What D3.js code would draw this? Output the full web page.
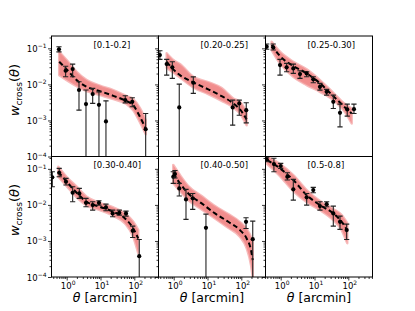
<!DOCTYPE html>
<html><head><meta charset="utf-8">
<script src="https://cdn.jsdelivr.net/npm/d3@7"></script>
<style>body{margin:0;background:#fff}svg{display:block}</style>
</head><body><svg id="c" width="415" height="311"></svg>
<script>
// ---------------- data ----------------
const panelLabels = ["[0.1-0.2]","[0.20-0.25]","[0.25-0.30]","[0.30-0.40]","[0.40-0.50]","[0.5-0.8]"];
const xTickExps = [0, 1, 2];
const yTickExps = [-1, -2, -3, -4];
const xLabel = "[arcmin]";

const obsTheta = [
  [0.59, 0.93, 1.5, 2.31, 3.72, 5.87, 9.0, 14.5, 54, 87, 217],
  [0.39, 0.62, 0.91, 1.46, 3.8, 55.6, 87, 140],
  [0.385, 0.6, 0.953, 1.5, 2.36, 3.72, 5.87, 9.2, 14.5, 22.9, 36, 56.8, 93, 147],
  [0.375, 0.6, 0.953, 1.5, 2.36, 3.72, 5.87, 9.0, 14.5, 22.9, 36, 56.8, 89.6, 140],
  [0.97, 1.09, 1.46, 2.31, 3.65, 9.0, 138, 218],
  [0.385, 0.63, 1.0, 1.57, 2.36, 5.87, 9.2, 14.5, 22.9, 36, 56.8, 89.6]
];
const obsW = [
  [0.094, 0.0239, 0.0266, 0.0070, 0.00284, 0.00538, 0.00271, 0.00094, 0.00367, 0.00329, 0.00057],
  [0.065, 0.0366, 0.0297, 0.0023, 0.0111, 0.0023, 0.00297, 0.00193],
  [0.111, 0.107, 0.0344, 0.0297, 0.0278, 0.0193, 0.0202, 0.0138, 0.00858, 0.00623, 0.00329, 0.00163, 0.00202, 0.00206],
  [0.058, 0.078, 0.0439, 0.0217, 0.0208, 0.0114, 0.00987, 0.0114, 0.00853, 0.0058, 0.00604, 0.0058, 0.00191, 0.000378],
  [0.0603, 0.0717, 0.0287, 0.0142, 0.0152, 0.00231, 0.0034, 0.00112],
  [0.184, 0.136, 0.12, 0.0603, 0.027, 0.0162, 0.0258, 0.00927, 0.0105, 0.0058, 0.0034, 0.002]
];
const obsHi = [
  [0.111, 0.032, 0.0366, 0.0118, 0.0070, 0.00774, 0.00622, 0.0035, 0.00482, 0.00425, 0.00156],
  [0.086, 0.0495, 0.0425, 0.0102, 0.0162, 0.00367, 0.00367, 0.00309],
  [0.132, 0.132, 0.0495, 0.0383, 0.0366, 0.0239, 0.0224, 0.0163, 0.0107, 0.00727, 0.00505, 0.00284, 0.00284, 0.00284],
  [0.083, 0.103, 0.0545, 0.0319, 0.0287, 0.0152, 0.0122, 0.013, 0.0105, 0.00718, 0.00718, 0.00672, 0.00258, 0.0011],
  [0.083, 0.09, 0.0395, 0.027, 0.0208, 0.00555, 0.00439, 0.00355],
  [0.209, 0.196, 0.142, 0.078, 0.051, 0.0208, 0.0306, 0.0122, 0.0122, 0.00927, 0.00489, 0.00293]
];
// null = error bar reaches below the plotted range
const obsLo = [
  [0.080, 0.0163, 0.0163, 0.00193, null, 0.00297, null, null, 0.00308, 0.00239, null],
  [0.0495, 0.0181, 0.0147, null, 0.00562, 0.00074, 0.0014, 0.000857],
  [0.094, 0.0897, 0.0181, 0.0224, 0.0202, 0.0147, 0.0163, 0.0111, 0.00695, 0.00505, 0.00215, 0.000664, 0.00132, 0.00156],
  [0.0319, 0.0603, 0.0355, 0.0122, 0.0152, 0.00886, 0.00718, 0.00987, 0.0069, 0.00467, 0.00521, 0.00489, 0.00125, null],
  [0.0395, 0.0555, 0.0176, 0.00396, 0.0075, null, 0.00222, null],
  [0.157, 0.083, 0.103, 0.0489, 0.0136, 0.00987, 0.0217, 0.00718, 0.00886, 0.00258, 0.00209, 0.0011]
];

const modelTheta = [
  [0.6, 1.0, 1.97, 3.9, 9.6, 24, 59, 93, 147, 218],
  [0.62, 0.97, 1.53, 3.8, 10.5, 26.3, 58, 91.5, 144],
  [0.54, 0.953, 2.36, 5.87, 14.5, 36, 79.8, 126],
  [0.564, 1.0, 1.97, 3.9, 9.6, 24, 53, 93, 131],
  [0.97, 1.53, 2.7, 6.73, 16.7, 41.2, 91.5, 144, 194, 218],
  [0.40, 0.953, 2.36, 5.87, 14.5, 36, 63.7, 93]
];
const modelW = [
  [0.0425, 0.0261, 0.01315, 0.00858, 0.00652, 0.00482, 0.00344, 0.00266, 0.00126, 0.0006],
  [0.0425, 0.0261, 0.0181, 0.01137, 0.00727, 0.00473, 0.00297, 0.00202, 0.00107],
  [0.124, 0.0611, 0.0322, 0.0202, 0.0107, 0.00473, 0.0023, 0.00156],
  [0.083, 0.0439, 0.0217, 0.0122, 0.00886, 0.00643, 0.00422, 0.00222, 0.00117],
  [0.075, 0.0395, 0.0208, 0.011, 0.0058, 0.0034, 0.002, 0.00117, 0.000555, 0.000293],
  [0.175, 0.103, 0.0489, 0.0187, 0.00987, 0.0058, 0.0034, 0.002]
];
const bandHi = [
  [0.0805, 0.0473, 0.0224, 0.0132, 0.00927, 0.00695, 0.00473, 0.00391, 0.0022, 0.00102],
  [0.0727, 0.0473, 0.0366, 0.0163, 0.0116, 0.00789, 0.00408, 0.00329, 0.00173],
  [0.153, 0.0805, 0.0425, 0.0261, 0.01315, 0.00585, 0.00284, 0.00215],
  [0.114, 0.0592, 0.0319, 0.0168, 0.0114, 0.00853, 0.0058, 0.0034, 0.002],
  [0.128, 0.0673, 0.0333, 0.0176, 0.00927, 0.00555, 0.00333, 0.00213, 0.00128, 0.000927],
  [0.22, 0.136, 0.0673, 0.0258, 0.0128, 0.00764, 0.00521, 0.00312]
];
const bandLo = [
  [0.0181, 0.01315, 0.00897, 0.00652, 0.00505, 0.00391, 0.00284, 0.00193, 0.000897, 0.000417],
  [0.0284, 0.0213, 0.0155, 0.00826, 0.00538, 0.0035, 0.0023, 0.00156, 0.00074],
  [0.0897, 0.0383, 0.0163, 0.00957, 0.00623, 0.00367, 0.0017, 0.000825],
  [0.0603, 0.0333, 0.0162, 0.0097, 0.00718, 0.00498, 0.00306, 0.0013, 0.000458],
  [0.0403, 0.0242, 0.0136, 0.0075, 0.00422, 0.00231, 0.0013, 0.00063, 0.000213, 0.0001],
  [0.136, 0.0631, 0.0242, 0.012, 0.00718, 0.00378, 0.002, 0.000869]
];

// ---------------- layout ----------------
const xDomain = [0.355, 520];
const yDomain = [1e-4, 0.22];
const colL = [51.5, 158.5, 265.5], colW = 107;
const rowT = [36, 156.5], rowH = 120.5;
const FONT = "'DejaVu Sans', sans-serif";
const svg = d3.select("#c");
const defs = svg.append("defs");

function minorVals(lo, hi) {
  const v = [];
  for (let k = -6; k <= 4; k++) for (let m = 2; m <= 9; m++) {
    const t = m * Math.pow(10, k);
    if (t > lo && t < hi) v.push(t);
  }
  return v;
}
const xMinor = minorVals(xDomain[0], xDomain[1]);
const yMinor = minorVals(yDomain[0], yDomain[1]);

panelLabels.forEach((lab, i) => {
  const r = Math.floor(i / 3), c = i % 3;
  const L = colL[c], T = rowT[r];
  const x = d3.scaleLog().domain(xDomain).range([L, L + colW]);
  const y = d3.scaleLog().domain(yDomain).range([T + rowH, T]);
  const g = svg.append("g");
  g.append("rect").attr("x", L).attr("y", T).attr("width", colW).attr("height", rowH).attr("fill", "#fff");

  defs.append("clipPath").attr("id", "clip" + i)
    .append("rect").attr("x", L).attr("y", T).attr("width", colW).attr("height", rowH);
  const pg = g.append("g").attr("clip-path", `url(#clip${i})`);

  const th = modelTheta[i];
  const idx = d3.range(th.length);
  const area = d3.area()
    .x(j => x(th[j])).y0(j => y(bandLo[i][j])).y1(j => y(bandHi[i][j]))
    .curve(d3.curveMonotoneX);
  pg.append("path").attr("d", area(idx))
    .attr("fill", "#f4a3a3").attr("stroke", "#f7bcbc").attr("stroke-width", 2.5)
    .attr("stroke-linejoin", "round");
  pg.append("path").attr("d", area(idx))
    .attr("fill", "#f08585").attr("opacity", 0.75);

  const line = d3.line().x(j => x(th[j])).y(j => y(modelW[i][j])).curve(d3.curveMonotoneX);
  pg.append("path").attr("d", line(idx)).attr("fill", "none")
    .attr("stroke", "#000").attr("stroke-width", 2).attr("stroke-dasharray", "5,3");

  // error bars and points
  const ot = obsTheta[i];
  ot.forEach((t, j) => {
    const px = x(t);
    const yh = y(obsHi[i][j]);
    const yl = obsLo[i][j] === null ? y(1e-6) : y(obsLo[i][j]);
    pg.append("line").attr("x1", px).attr("x2", px).attr("y1", yh).attr("y2", yl)
      .attr("stroke", "#222").attr("stroke-width", 1.1);
    pg.append("line").attr("x1", px - 2.6).attr("x2", px + 2.6).attr("y1", yh).attr("y2", yh)
      .attr("stroke", "#222").attr("stroke-width", 1.1);
    if (obsLo[i][j] !== null)
      pg.append("line").attr("x1", px - 2.6).attr("x2", px + 2.6).attr("y1", yl).attr("y2", yl)
        .attr("stroke", "#222").attr("stroke-width", 1.1);
    pg.append("circle").attr("cx", px).attr("cy", y(obsW[i][j])).attr("r", 2.1).attr("fill", "#000");
  });

  // frame
  g.append("rect").attr("x", L).attr("y", T).attr("width", colW).attr("height", rowH)
    .attr("fill", "none").attr("stroke", "#000").attr("stroke-width", 1);

  // y ticks (all panels, outward)
  const ya = g.append("g").attr("transform", `translate(${L},0)`)
    .call(d3.axisLeft(y).tickValues(yTickExps.map(e => Math.pow(10, e))).tickSize(3.5).tickFormat(""));
  const ym = g.append("g").attr("transform", `translate(${L},0)`)
    .call(d3.axisLeft(y).tickValues(yMinor).tickSize(2).tickFormat(""));
  [ya, ym].forEach(a => { a.select(".domain").remove(); a.selectAll("line").attr("stroke", "#000").attr("stroke-width", 0.8); });

  // y tick labels for first column
  if (c === 0) {
    yTickExps.forEach(e => {
      const ty = y(Math.pow(10, e));
      const t = svg.append("text").attr("x", L - 5).attr("y", ty + 3.5)
        .attr("text-anchor", "end").attr("font-family", FONT).attr("font-size", 8.5).attr("fill", "#000");
      t.append("tspan").text("10");
      t.append("tspan").attr("font-size", 6).attr("dy", -3.5).text("\u2212" + Math.abs(e));
    });
    // y-axis label
    const yl = svg.append("text").attr("transform", `translate(18.5,${r === 0 ? 90 : 210}) rotate(-90)`)
      .attr("text-anchor", "middle").attr("font-family", FONT).attr("font-size", 13).attr("fill", "#000");
    yl.append("tspan").attr("font-style", "italic").text("w");
    yl.append("tspan").attr("font-size", 9).attr("dy", 3).text("cross");
    yl.append("tspan").attr("dy", -3).text("(");
    yl.append("tspan").attr("font-style", "italic").text("\u03b8");
    yl.append("tspan").text(")");
  }

  // x ticks on bottom row
  if (r === 1) {
    const xa = g.append("g").attr("transform", `translate(0,${T + rowH})`)
      .call(d3.axisBottom(x).tickValues(xTickExps.map(e => Math.pow(10, e))).tickSize(3.5).tickFormat(""));
    const xm = g.append("g").attr("transform", `translate(0,${T + rowH})`)
      .call(d3.axisBottom(x).tickValues(xMinor).tickSize(2).tickFormat(""));
    [xa, xm].forEach(a => { a.select(".domain").remove(); a.selectAll("line").attr("stroke", "#000").attr("stroke-width", 0.8); });
    xTickExps.forEach(e => {
      const tx = x(Math.pow(10, e));
      const t = svg.append("text").attr("x", tx + 1.5).attr("y", T + rowH + 11.5)
        .attr("text-anchor", "middle").attr("font-family", FONT).attr("font-size", 8.5).attr("fill", "#000");
      t.append("tspan").text("10");
      t.append("tspan").attr("font-size", 6).attr("dy", -3.5).text(String(e));
    });
    const xl = svg.append("text").attr("x", L + colW / 2).attr("y", 302)
      .attr("text-anchor", "middle").attr("font-family", FONT).attr("font-size", 12.5).attr("fill", "#000");
    xl.append("tspan").attr("font-style", "italic").text("\u03b8");
    xl.append("tspan").text(" " + xLabel);
  }

  // panel label
  svg.append("text").attr("x", L + 42).attr("y", T + 11.7)
    .attr("font-family", FONT).attr("font-size", 8.5).attr("fill", "#000").text(lab);
});
</script>
</body></html>
